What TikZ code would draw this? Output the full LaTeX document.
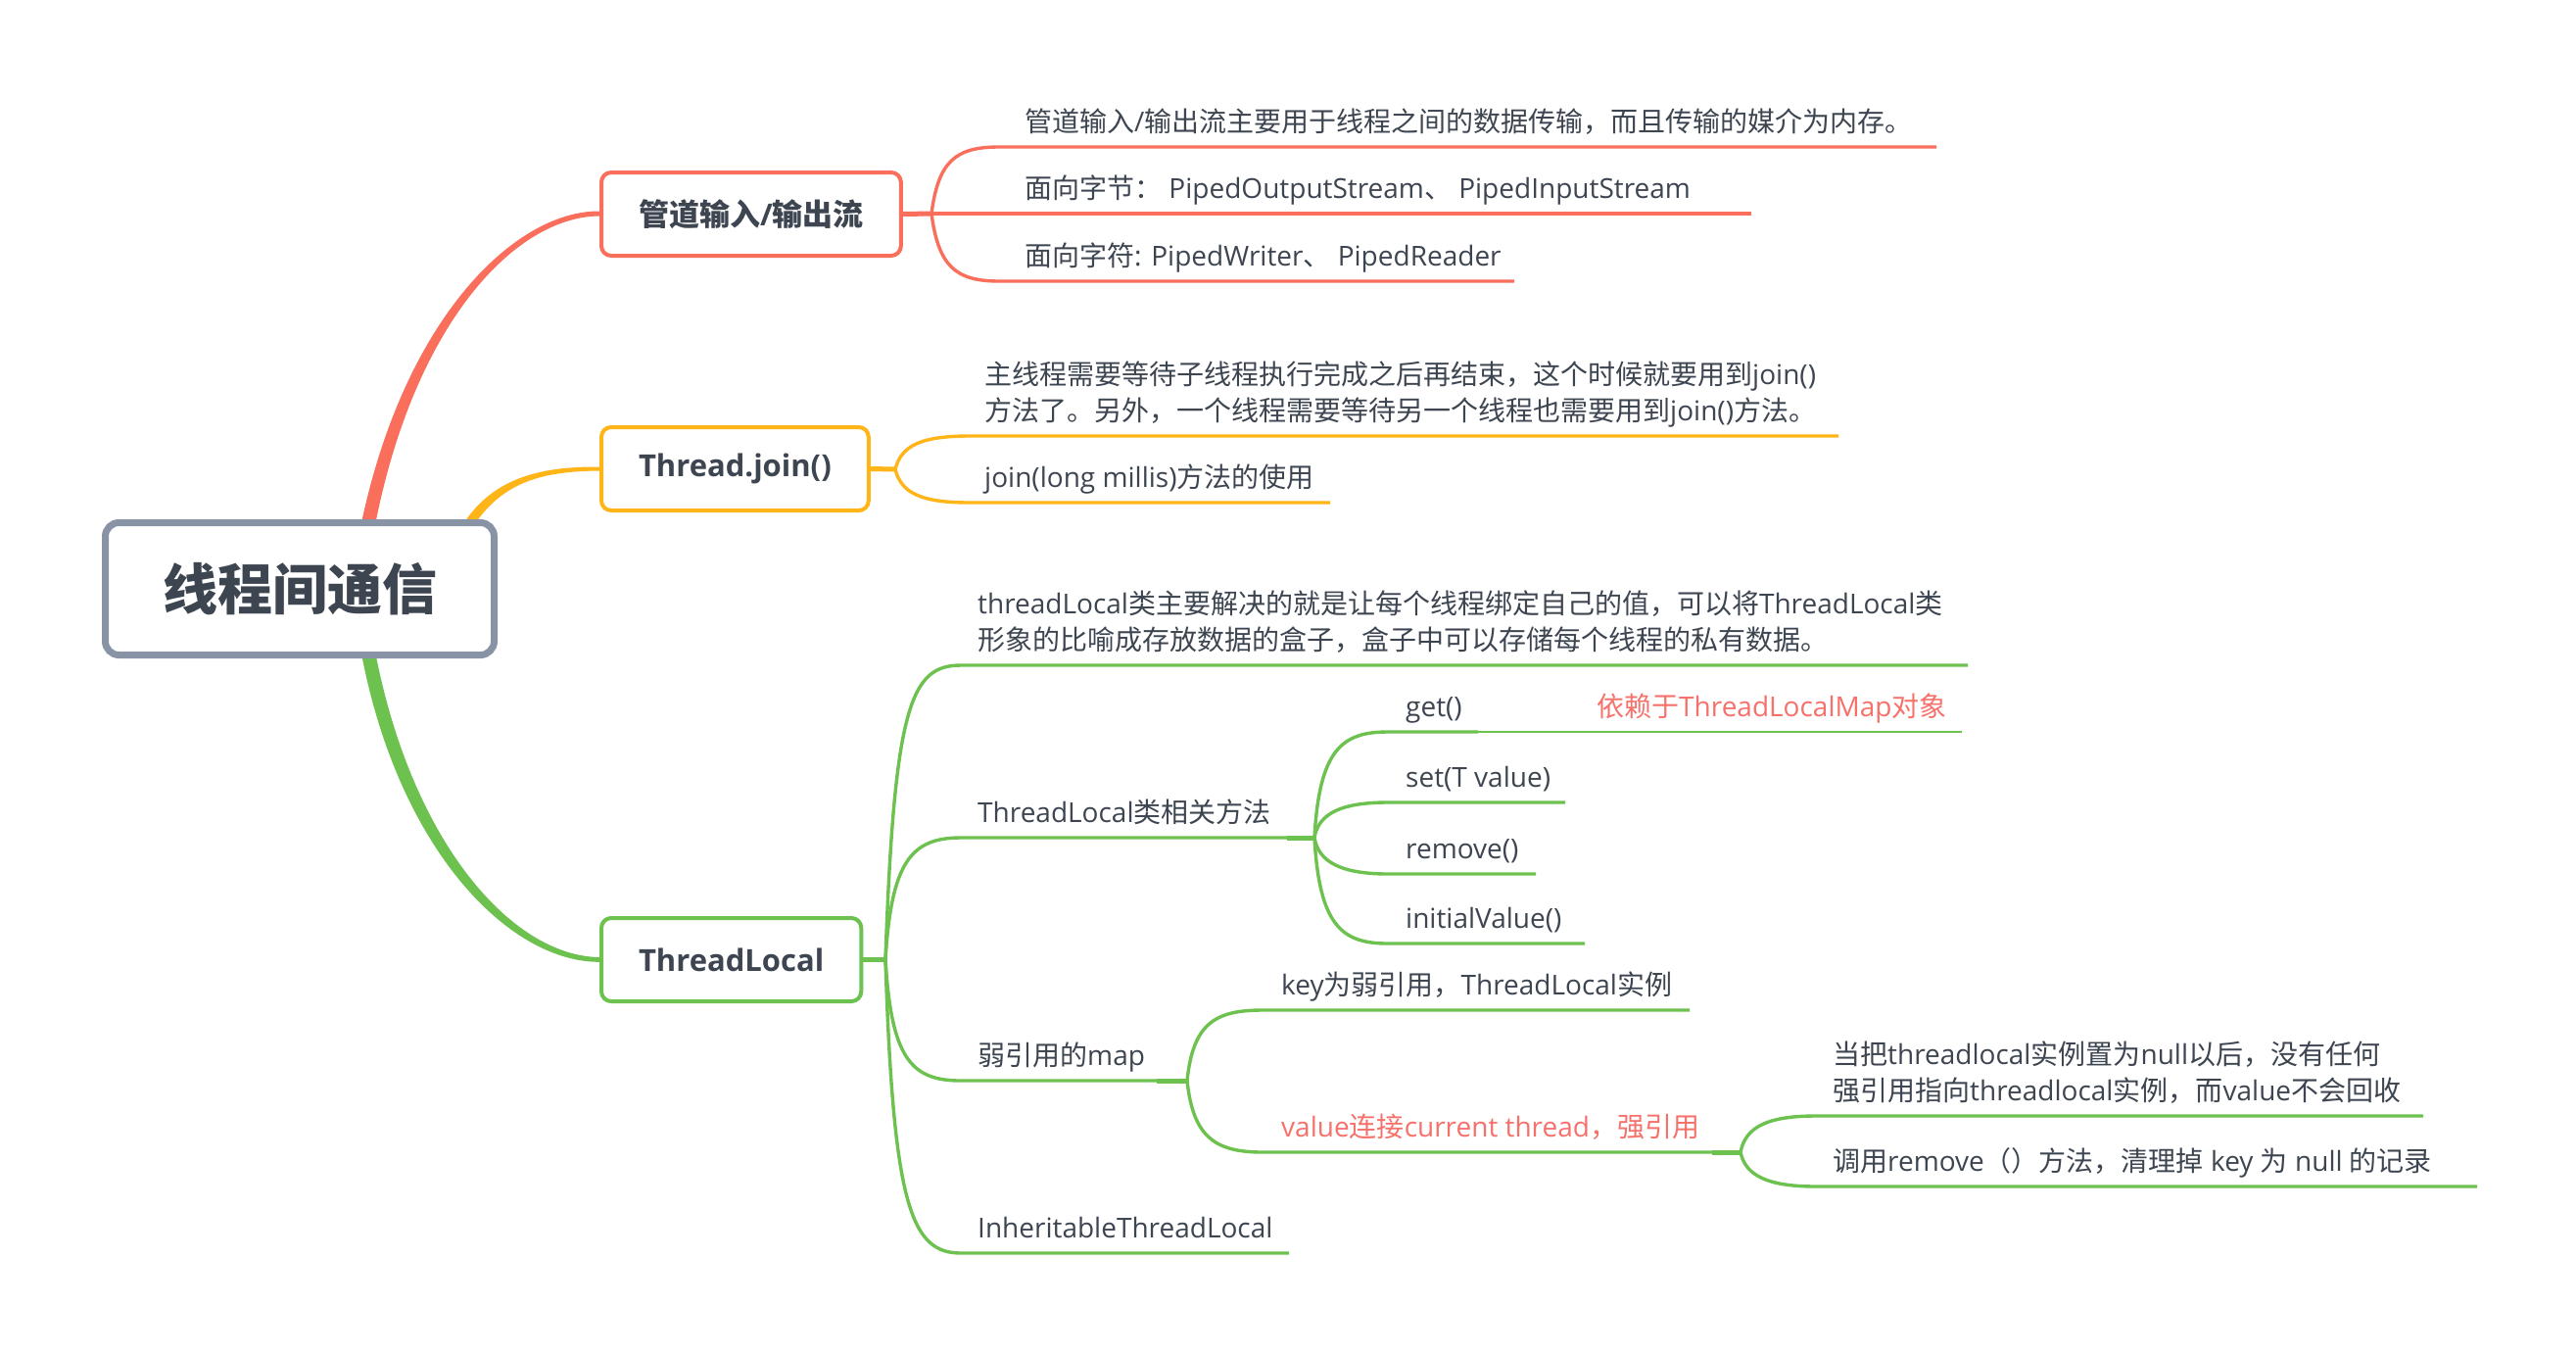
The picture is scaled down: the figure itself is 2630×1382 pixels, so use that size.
\documentclass[tikz,border=0pt]{standalone}
\usepackage{fontspec}
\setmainfont{Open Sans}
\newfontfamily\cjk{Noto Sans CJK SC}
\usetikzlibrary{calc}
\XeTeXinterchartokenstate=1
\newXeTeXintercharclass\CJKcls
\newcount\cjkc
\def\setcjkrange#1#2{\cjkc=#1\relax\loop\XeTeXcharclass\cjkc=\CJKcls\relax\ifnum\cjkc<#2\relax\advance\cjkc by 1\repeat}
\setcjkrange{"4E00}{"9FFF}
\setcjkrange{"3000}{"303F}
\setcjkrange{"FF00}{"FFEF}
\XeTeXinterchartoks 0 \CJKcls = {\begingroup\cjk}
\XeTeXinterchartoks 4095 \CJKcls = {\begingroup\cjk}
\XeTeXinterchartoks \CJKcls 0 = {\endgroup}
\XeTeXinterchartoks \CJKcls 4095 = {\endgroup}
\definecolor{ink}{HTML}{3D4551}
\definecolor{redc}{HTML}{FA6E5C}
\definecolor{orac}{HTML}{FFB517}
\definecolor{grnc}{HTML}{6DC24F}
\definecolor{rootgray}{HTML}{8893A5}
\definecolor{redtxt}{HTML}{F7716B}
\newcommand{\twolines}[2]{\begin{tabular}[b]{@{}l@{}}#1\\#2\end{tabular}}
\begin{document}
\begin{tikzpicture}[x=1pt,y=-1pt,
  textnode/.style={anchor=base west, inner sep=0pt, text=ink, font=\fontsize{28}{37}\selectfont},
  topicbox/.style={draw=#1, line width=4pt, rounded corners=10pt, fill=white, text=ink,
    font=\fontsize{31}{37}\selectfont\bfseries, minimum height=85pt, inner xsep=38pt, anchor=west},
  uline/.style={draw=#1, line width=3.4pt},
  stubline/.style={draw=#1, line width=5pt},
  thinline/.style={draw=#1, line width=2.6pt},
]
\useasboundingbox (0,0) rectangle (2630,1382);
\fill[white] (0,0) rectangle (2630,1382);

% main tapered branches (drawn from the root, under it, to each topic box)
\fill[redc] (367,543.5) .. controls (410,327) and (525,215) .. (612,215.5) -- (612,220.5) .. controls (525,221) and (420,333) .. (381,546.5) -- cycle;
\fill[orac] (465.5,547.8) .. controls (496,488) and (550,476) .. (612,476.5) -- (612,480.5) .. controls (550,481) and (505,493) .. (474.5,552.2) -- cycle;
\fill[grnc] (367,656) .. controls (403,863) and (518,982) .. (612,981.8) -- (612,977) .. controls (522,976) and (417,857) .. (381,654) -- cycle;

% root
\node[draw=rootgray, line width=7pt, rounded corners=14pt, fill=white, minimum width=397pt, minimum height=135pt,
  font=\fontsize{56}{60}\selectfont\bfseries, text=ink] (root) at (306,601) {线程间通信};

% topic boxes
\node[topicbox=redc] (b1) at (612,218.5) {管道输入/输出流};
\node[topicbox=orac] (b2) at (612,478.5) {Thread.join()};
\node[topicbox=grnc] (b3) at (612,979.5) {ThreadLocal};

% ---------- red branch ----------
\coordinate (f1) at (951,218);
\draw[stubline=redc] (b1.east) -- (f1);
\node[textnode] (r1) at (1046,134) {管道输入/输出流主要用于线程之间的数据传输，而且传输的媒介为内存。};
\node[textnode] (r2) at (1046,202) {面向字节： PipedOutputStream、 PipedInputStream};
\node[textnode] (r3) at (1046,271) {面向字符: PipedWriter、 PipedReader};
\coordinate (r1e) at (1977,150);
\coordinate (r2e) at (1788,218);
\coordinate (r3e) at (1546,287);
\draw[uline=redc] (f1) .. controls (958,165) and (975,150) .. (1020,150) -- (r1e);
\draw[uline=redc] (f1) -- (r2e);
\draw[uline=redc] (f1) .. controls (958,271) and (975,287) .. (1020,287) -- (r3e);

% ---------- orange branch ----------
\coordinate (f2) at (914,479);
\draw[stubline=orac] (b2.east) -- (f2);
\node[textnode] (o1) at (1005,429) {\twolines{主线程需要等待子线程执行完成之后再结束，这个时候就要用到join()}{方法了。另外，一个线程需要等待另一个线程也需要用到join()方法。}};
\node[textnode] (o2) at (1005,497) {join(long millis)方法的使用};
\coordinate (o1e) at (1877,445);
\coordinate (o2e) at (1358,513);
\draw[uline=orac] (f2) .. controls (920,455) and (940,445) .. (990,445) -- (o1e);
\draw[uline=orac] (f2) .. controls (920,503) and (940,513) .. (990,513) -- (o2e);

% ---------- green branch ----------
\coordinate (f3) at (904,979.5);
\draw[stubline=grnc] (b3.east) -- (f3);
\node[textnode] (g1) at (998,663) {\twolines{threadLocal类主要解决的就是让每个线程绑定自己的值，可以将ThreadLocal类}{形象的比喻成存放数据的盒子，盒子中可以存储每个线程的私有数据。}};
\node[textnode] (g2) at (998,839) {ThreadLocal类相关方法};
\node[textnode] (g3) at (998,1087) {弱引用的map};
\node[textnode] (g4) at (998,1263) {InheritableThreadLocal};
\coordinate (g1e) at (2009,679);
\coordinate (m) at (1342,855);
\coordinate (w) at (1212,1103);
\coordinate (g4e) at (1316,1279);
\draw[uline=grnc] (f3) .. controls (913,720) and (930,679) .. (981,679) -- (g1e);
\draw[uline=grnc] (f3) .. controls (910,880) and (930,855) .. (981,855) -- (m);
\draw[uline=grnc] (f3) .. controls (910,1080) and (930,1103) .. (981,1103) -- (w);
\draw[uline=grnc] (f3) .. controls (912,1230) and (930,1279) .. (981,1279) -- (g4e);
\draw[stubline=grnc] (1314,855) -- (m);
\draw[stubline=grnc] (1181,1103) -- (w);

% methods
\node[textnode] (get) at (1435,731) {get()};
\node[textnode, text=redtxt] (dep) at (1630,731) {依赖于ThreadLocalMap对象};
\node[textnode] (set) at (1435,803) {set(T value)};
\node[textnode] (rem) at (1435,876) {remove()};
\node[textnode] (ini) at (1435,947) {initialValue()};
\coordinate (gete) at (1509,747);
\coordinate (depe) at (2003,747);
\coordinate (sete) at (1598,819);
\coordinate (reme) at (1568,892);
\coordinate (inie) at (1618,963);
\draw[uline=grnc] (m) .. controls (1347,765) and (1370,747) .. (1417,747) -- (gete);
\draw[thinline=grnc] (gete) -- (depe);
\draw[uline=grnc] (m) .. controls (1346,830) and (1370,819) .. (1417,819) -- (sete);
\draw[uline=grnc] (m) .. controls (1346,880) and (1370,892) .. (1417,892) -- (reme);
\draw[uline=grnc] (m) .. controls (1347,945) and (1370,963) .. (1417,963) -- (inie);

% weak map
\node[textnode] (key) at (1308,1015) {key为弱引用，ThreadLocal实例};
\node[textnode, text=redtxt] (val) at (1308,1160) {value连接current thread，强引用};
\coordinate (keye) at (1725,1031);
\coordinate (v) at (1777,1176);
\draw[uline=grnc] (w) .. controls (1218,1045) and (1240,1031) .. (1289,1031) -- (keye);
\draw[uline=grnc] (w) .. controls (1218,1160) and (1240,1176) .. (1289,1176) -- (v);
\draw[stubline=grnc] (1748,1176) -- (v);

\node[textnode] (v1) at (1871,1123) {\twolines{当把threadlocal实例置为null以后，没有任何}{强引用指向threadlocal实例，而value不会回收}};
\node[textnode] (v2) at (1871,1195) {调用remove（）方法，清理掉 key 为 null 的记录};
\coordinate (v1e) at (2474,1139);
\coordinate (v2e) at (2529,1211);
\draw[uline=grnc] (v) .. controls (1782,1150) and (1805,1139) .. (1854,1139) -- (v1e);
\draw[uline=grnc] (v) .. controls (1782,1200) and (1805,1211) .. (1854,1211) -- (v2e);
\end{tikzpicture}
\end{document}
